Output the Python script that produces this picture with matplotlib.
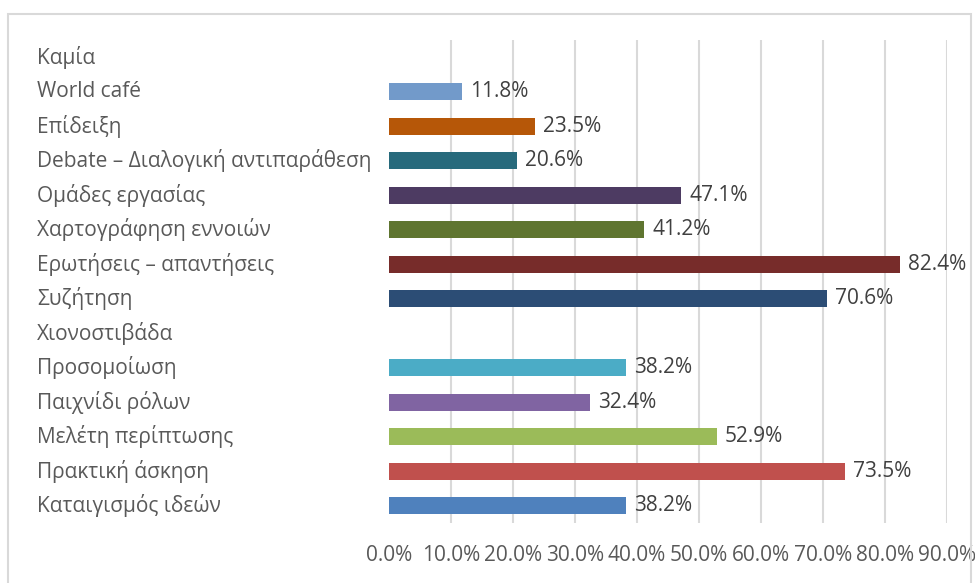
import matplotlib
matplotlib.use("Agg")
import matplotlib.pyplot as plt
import matplotlib.transforms as mtransforms
from matplotlib.patches import Rectangle

# categories from bottom to top
categories = ["Καταιγισμός ιδεών", "Πρακτική άσκηση", "Μελέτη περίπτωσης", "Παιχνίδι ρόλων",
              "Προσομοίωση", "Χιονοστιβάδα", "Συζήτηση", "Ερωτήσεις – απαντήσεις",
              "Χαρτογράφηση εννοιών", "Ομάδες εργασίας", "Debate – Διαλογική αντιπαράθεση",
              "Επίδειξη", "World café", "Καμία"]
values = [38.2, 73.5, 52.9, 32.4, 38.2, None, 70.6, 82.4, 41.2, 47.1, 20.6, 23.5, 11.8, None]
colors = ["#4F81BD", "#C0504D", "#9BBB59", "#8064A2", "#4BACC6", "#F79646", "#2C4D75",
          "#772C2A", "#5F7530", "#4D3B62", "#276A7C", "#B65708", "#729ACA", "#AFA4C3"]
xticks = [0, 10, 20, 30, 40, 50, 60, 70, 80, 90]

plt.rcParams['font.family'] = ['Open Sans', 'DejaVu Sans']
fs = 15

W, H = 975, 583
fig = plt.figure(figsize=(W / 100, H / 100), dpi=100)
ax = fig.add_axes([389 / W, 1 - 523 / H, (947 - 389) / W, (523 - 40) / H])

fig.patches.append(Rectangle((8 / W, -0.01), (971 - 8) / W, 1 - 14 / H + 0.01,
                             transform=fig.transFigure, fill=False,
                             edgecolor="#D9D9D9", linewidth=1.5))

for i, v in enumerate(values):
    if v is None:
        continue
    ax.barh(i, v, height=0.5, color=colors[i])
    ax.text(v + 1.3, i, f"{v:.1f}%", va="center", ha="left", fontsize=fs, color="#404040")

ax.set_xlim(0, 90)
ax.set_ylim(-0.5, len(categories) - 0.5)
ax.set_xticks(xticks)
ax.set_xticklabels([f"{t:.1f}%" for t in xticks], fontsize=fs, color="#595959")
ax.tick_params(axis="x", length=0, pad=16)
ax.set_yticks([])
ax.grid(axis="x", color="#D9D9D9", linewidth=1.5)
ax.set_axisbelow(True)
for s in ax.spines.values():
    s.set_visible(False)
# hide the gridline at 0
ax.xaxis.get_gridlines()[0].set_visible(False)

trans = mtransforms.blended_transform_factory(fig.transFigure, ax.transData)
for i, c in enumerate(categories):
    ax.text(37 / W, i, c, transform=trans, ha="left", va="center", fontsize=fs, color="#595959")

fig.savefig("out.png", dpi=100)
